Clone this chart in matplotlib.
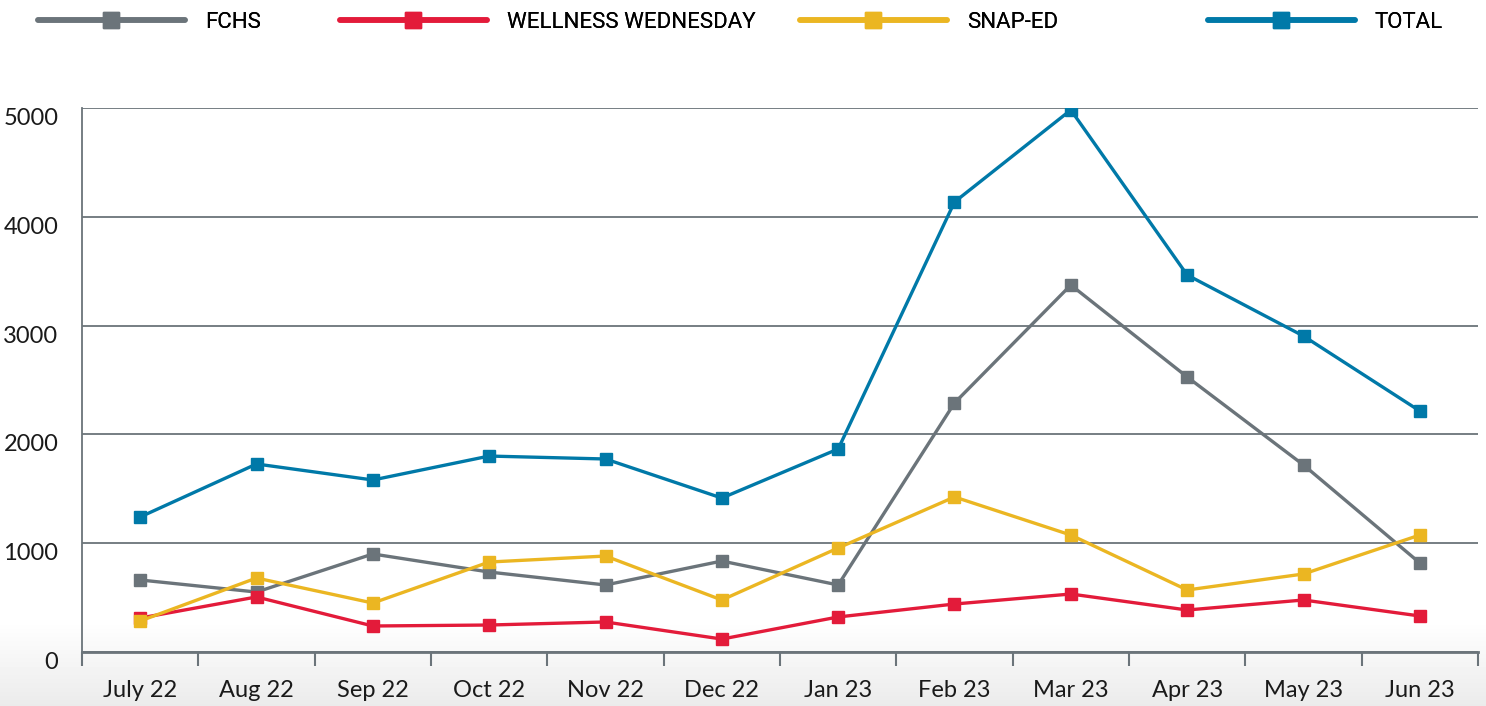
import matplotlib
matplotlib.use('Agg')
import matplotlib.pyplot as plt
import numpy as np

months = ['July 22', 'Aug 22', 'Sep 22', 'Oct 22', 'Nov 22', 'Dec 22',
          'Jan 23', 'Feb 23', 'Mar 23', 'Apr 23', 'May 23', 'Jun 23']
fchs = [662, 551, 901, 735, 616, 836, 616, 2289, 3373, 2528, 1719, 818]
wellness = [312, 506, 239, 248, 276, 119, 322, 441, 533, 386, 478, 331]
snap_ed = [285, 680, 450, 827, 882, 478, 956, 1425, 1075, 570, 717, 1075]
total = [1241, 1728, 1581, 1801, 1774, 1415, 1866, 4136, 4982, 3465, 2904, 2215]

series_names = ['FCHS', 'WELLNESS WEDNESDAY', 'SNAP-ED', 'TOTAL']
series_values = [fchs, wellness, snap_ed, total]
series_colors = ['#6b747a', '#e31b3a', '#ebb622', '#0079a8']

axis_color = '#6b747a'
label_font = ['Lato', 'DejaVu Sans']
legend_font = ['Roboto', 'DejaVu Sans']

fig = plt.figure(figsize=(14.86, 7.06), dpi=100)

# faint grey fade at the bottom of the picture
bg = fig.add_axes([0, 0, 1, 1], zorder=-10)
fade = np.clip((np.arange(706) - 620) / 86, 0, 1)
grad = 1 - 0.08 * fade[:, None]
bg.imshow(grad, aspect='auto', cmap='gray', vmin=0, vmax=1,
          extent=[0, 1, 0, 1], origin='upper')
bg.axis('off')

ax = fig.add_axes([82 / 1486, 54 / 706, 1396 / 1486, 544 / 706])
ax.patch.set_alpha(0)

x = np.arange(len(months))
handles = []
for name, vals, col in zip(series_names, series_values, series_colors):
    h, = ax.plot(
        x, vals,
        color=col,
        linewidth=2.4,
        marker='s',
        markersize=8.5,
        label=name,
        zorder=3
    )
    handles.append(h)

ax.set_xlim(-0.5, len(months) - 0.5)
ax.set_ylim(0, 5000)
ax.set_yticks([0, 1000, 2000, 3000, 4000, 5000])
ax.yaxis.grid(True, color=axis_color, linewidth=1.3)
ax.set_axisbelow(True)

ax.spines['top'].set_visible(False)
ax.spines['right'].set_visible(False)
ax.spines['left'].set_color(axis_color)
ax.spines['left'].set_linewidth(1.3)
ax.spines['bottom'].set_color(axis_color)
ax.spines['bottom'].set_linewidth(2)

ax.set_xticks(x)
ax.set_xticklabels(months, fontfamily=label_font, fontsize=17, color='#1a1a1a')
ax.set_xticks(np.arange(-0.5, len(months)), minor=True)
ax.tick_params(axis='x', which='major', length=0, pad=20)
ax.tick_params(axis='x', which='minor', length=10, width=1.5, color=axis_color)
ax.tick_params(axis='y', length=0, pad=17)
for lab in ax.get_yticklabels():
    lab.set_fontfamily(label_font)
    lab.set_fontsize(17)
    lab.set_color('#1a1a1a')
    lab.set_verticalalignment('top')

# legend entries spread along the top
legend_x = [38, 340, 800, 1208]
for h, lx in zip(handles, legend_x):
    lg = fig.legend(
        handles=[h],
        loc='center left',
        bbox_to_anchor=(lx / 1486, 1 - 22 / 706),
        frameon=False,
        handlelength=6.6,
        handletextpad=0.9,
        borderpad=0,
        borderaxespad=0,
        prop={'family': legend_font, 'size': 16}
    )
    for line in lg.get_lines():
        line.set_linewidth(4)
        line.set_solid_capstyle('round')
        line.set_markersize(11)
    fig.add_artist(lg)

fig.savefig('out.png', dpi=100)
